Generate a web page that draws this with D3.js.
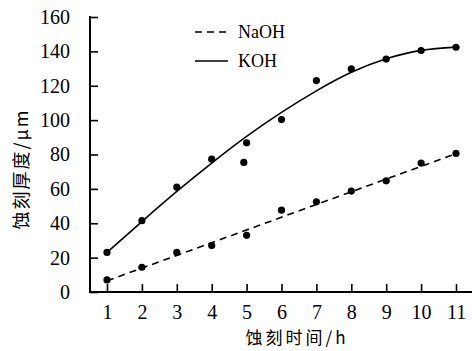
<!DOCTYPE html>
<html>
<head>
<meta charset="utf-8">
<script src="https://cdn.jsdelivr.net/npm/d3@7"></script>
<style>
  body { margin: 0; background: #fff; }
  svg { display: block; }
</style>
</head>
<body>
<svg id="chart" width="472" height="351"></svg>
<script>
// etching time (h)
const hours = [1, 2, 3, 4, 5, 5, 6, 7, 8, 9, 10, 11];
const naohHours = [1, 2, 3, 4, 5, 6, 7, 8, 9, 10, 11];

// measured etch thickness (um)
const kohPoints = [23, 41.5, 61, 77.3, 86.8, 75.4, 100.3, 123, 129.8, 135.5, 140.5, 142.4];
const naohPoints = [7, 14.4, 23, 27, 33, 47.6, 52.5, 58.7, 64.7, 75, 80.6];
// x offset of the second sample at 5 h (it sits slightly left)
const kohJitter = [0, 0, 0, 0, 0, -0.08, 0, 0, 0, 0, 0, 0];

// fitted curves
const kohFitX = [1, 2, 3, 4, 5, 6, 7, 8, 9, 10, 11];
const kohFitY = [23, 41, 58.5, 75, 90.5, 104.5, 117, 127.8, 135.7, 140.6, 142.5];
const naohFitX = [1, 11];
const naohFitY = [6.5, 80.5];

const xTicks = [1, 2, 3, 4, 5, 6, 7, 8, 9, 10, 11];
const yTicks = [0, 20, 40, 60, 80, 100, 120, 140, 160];

const legendItems = [
  { label: "NaOH", dash: "7,5" },
  { label: "KOH", dash: null },
];

const SERIF = "'Liberation Serif', 'DejaVu Serif', serif";
const CJK = "'Noto Sans CJK SC', sans-serif";

const AXIS_X = 90;
const WIDTH = 472;
const TICK = 8;

const svg = d3.select("#chart");

const x = d3.scaleLinear().domain([1, 11]).range([107, 456]);
const y = d3.scaleLinear().domain([0, 160]).range([292, 17]);

// axes
const yAxis = svg.append("g")
  .attr("transform", `translate(${AXIS_X},0)`)
  .call(d3.axisLeft(y).tickValues(yTicks).tickSize(-TICK).tickPadding(TICK + 12).tickSizeOuter(0));

const xAxis = svg.append("g")
  .attr("transform", `translate(0,${y(0)})`)
  .call(d3.axisBottom(x).tickValues(xTicks).tickSize(-TICK).tickPadding(TICK + 5).tickSizeOuter(0));

[xAxis, yAxis].forEach((g) => {
  g.attr("font-family", null).attr("font-size", null);
  g.select(".domain").remove();
  g.selectAll(".tick line").attr("stroke", "#000").attr("stroke-width", 1.6);
  g.selectAll(".tick text")
    .attr("fill", "#000")
    .style("font-family", SERIF)
    .style("font-size", "20px");
});
xAxis.selectAll(".tick text").attr("dy", "0.71em");

svg.append("line")
  .attr("x1", AXIS_X).attr("x2", WIDTH)
  .attr("y1", y(0)).attr("y2", y(0))
  .attr("stroke", "#000").attr("stroke-width", 2);
svg.append("line")
  .attr("x1", AXIS_X).attr("x2", AXIS_X)
  .attr("y1", y(0) + 1).attr("y2", y(160) - 1)
  .attr("stroke", "#000").attr("stroke-width", 2);

// axis titles
svg.append("text")
  .attr("x", 297).attr("y", 344)
  .attr("text-anchor", "middle")
  .style("font-family", CJK)
  .style("font-size", "17px")
  .style("letter-spacing", "3px")
  .text("蚀刻时间/h");

svg.append("text")
  .attr("transform", "translate(20,169) rotate(-90)")
  .attr("text-anchor", "middle")
  .attr("dominant-baseline", "central")
  .style("font-family", CJK)
  .style("font-size", "18px")
  .style("letter-spacing", "2px")
  .text("蚀刻厚度/μm");

// fit lines
const fitLine = d3.line()
  .x((d) => x(d[0]))
  .y((d) => y(d[1]));

svg.append("path")
  .datum(d3.zip(naohFitX, naohFitY))
  .attr("d", fitLine)
  .attr("fill", "none")
  .attr("stroke", "#000")
  .attr("stroke-width", 1.6)
  .attr("stroke-dasharray", legendItems[0].dash);

svg.append("path")
  .datum(d3.zip(kohFitX, kohFitY))
  .attr("d", fitLine.curve(d3.curveNatural))
  .attr("fill", "none")
  .attr("stroke", "#000")
  .attr("stroke-width", 1.6);

// measured points
svg.append("g")
  .selectAll("circle")
  .data(d3.zip(hours, kohPoints, kohJitter))
  .join("circle")
  .attr("cx", (d) => x(d[0] + d[2]))
  .attr("cy", (d) => y(d[1]))
  .attr("r", 3.6)
  .attr("fill", "#000");

svg.append("g")
  .selectAll("circle")
  .data(d3.zip(naohHours, naohPoints))
  .join("circle")
  .attr("cx", (d) => x(d[0]))
  .attr("cy", (d) => y(d[1]))
  .attr("r", 3.6)
  .attr("fill", "#000");

// legend
const legend = svg.append("g")
  .selectAll("g")
  .data(legendItems)
  .join("g")
  .attr("transform", (d, i) => `translate(195,${32 + i * 29})`);

legend.append("line")
  .attr("x1", 0).attr("x2", 33)
  .attr("stroke", "#000")
  .attr("stroke-width", 1.6)
  .attr("stroke-dasharray", (d) => d.dash);

legend.append("text")
  .attr("x", 43)
  .attr("dy", "0.35em")
  .style("font-family", SERIF)
  .style("font-size", "18px")
  .text((d) => d.label);
</script>
</body>
</html>
